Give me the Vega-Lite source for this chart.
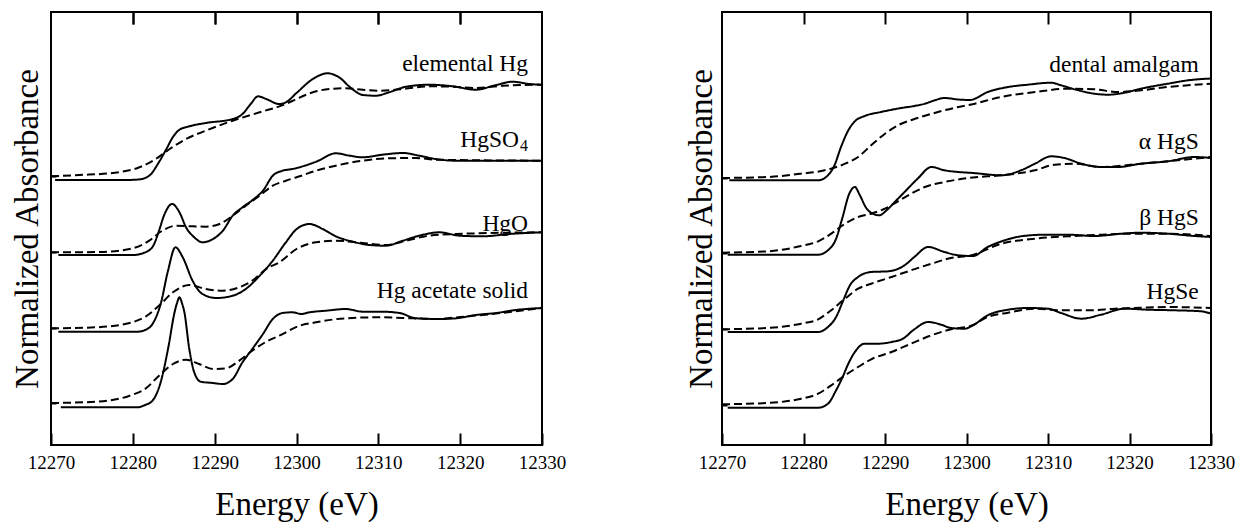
{
  "$schema": "https://vega.github.io/schema/vega-lite/v6.json",
  "background": "white",
  "padding": {"left": 10, "top": 10, "right": 0, "bottom": 0},
  "spacing": 117,
  "config": {
    "view": {"stroke": "black", "strokeWidth": 2},
    "font": "Liberation Serif",
    "axis": {"labelFont": "Liberation Serif", "titleFont": "Liberation Serif", "labelColor": "black", "titleColor": "black", "titleFontWeight": "normal", "tickColor": "black", "grid": false, "domain": false},
    "text": {"font": "Liberation Serif", "color": "black"}
  },
  "datasets": {
    "spectra": [
      {"p":"L","s":"elem","k":"solid","e":12270.5,"y":265},{"p":"L","s":"elem","k":"solid","e":12275,"y":265},{"p":"L","s":"elem","k":"solid","e":12279,"y":265},{"p":"L","s":"elem","k":"solid","e":12280.7,"y":265.5},{"p":"L","s":"elem","k":"solid","e":12282,"y":269.3},{"p":"L","s":"elem","k":"solid","e":12283.2,"y":283},{"p":"L","s":"elem","k":"solid","e":12284.1,"y":296},{"p":"L","s":"elem","k":"solid","e":12284.9,"y":308},{"p":"L","s":"elem","k":"solid","e":12285.7,"y":315.3},{"p":"L","s":"elem","k":"solid","e":12286.9,"y":318.7},{"p":"L","s":"elem","k":"solid","e":12288.9,"y":322},{"p":"L","s":"elem","k":"solid","e":12292.2,"y":326},{"p":"L","s":"elem","k":"solid","e":12293.4,"y":331},{"p":"L","s":"elem","k":"solid","e":12294.4,"y":341},{"p":"L","s":"elem","k":"solid","e":12295.3,"y":348.7},{"p":"L","s":"elem","k":"solid","e":12296.3,"y":346},{"p":"L","s":"elem","k":"solid","e":12297.9,"y":341},{"p":"L","s":"elem","k":"solid","e":12298.7,"y":342.7},{"p":"L","s":"elem","k":"solid","e":12300,"y":352},{"p":"L","s":"elem","k":"solid","e":12302,"y":366},{"p":"L","s":"elem","k":"solid","e":12303.8,"y":371.7},{"p":"L","s":"elem","k":"solid","e":12305.2,"y":367.7},{"p":"L","s":"elem","k":"solid","e":12306.7,"y":356.7},{"p":"L","s":"elem","k":"solid","e":12308.1,"y":350},{"p":"L","s":"elem","k":"solid","e":12309.7,"y":349.3},{"p":"L","s":"elem","k":"solid","e":12311.3,"y":352.7},{"p":"L","s":"elem","k":"solid","e":12313.4,"y":358.3},{"p":"L","s":"elem","k":"solid","e":12316.2,"y":360.3},{"p":"L","s":"elem","k":"solid","e":12319.1,"y":358.7},{"p":"L","s":"elem","k":"solid","e":12321.9,"y":355.3},{"p":"L","s":"elem","k":"solid","e":12324.4,"y":360},{"p":"L","s":"elem","k":"solid","e":12326.4,"y":363.3},{"p":"L","s":"elem","k":"solid","e":12328.5,"y":361},{"p":"L","s":"elem","k":"solid","e":12329.9,"y":360.3},
      {"p":"L","s":"elem","k":"dashed","e":12270,"y":268.7},{"p":"L","s":"elem","k":"dashed","e":12273.5,"y":270},{"p":"L","s":"elem","k":"dashed","e":12277.5,"y":272},{"p":"L","s":"elem","k":"dashed","e":12280.8,"y":277.7},{"p":"L","s":"elem","k":"dashed","e":12282.8,"y":286},{"p":"L","s":"elem","k":"dashed","e":12284.5,"y":296},{"p":"L","s":"elem","k":"dashed","e":12286.5,"y":306},{"p":"L","s":"elem","k":"dashed","e":12288.9,"y":314.3},{"p":"L","s":"elem","k":"dashed","e":12292.2,"y":324.3},{"p":"L","s":"elem","k":"dashed","e":12295.5,"y":332.7},{"p":"L","s":"elem","k":"dashed","e":12298.7,"y":341},{"p":"L","s":"elem","k":"dashed","e":12300,"y":346},{"p":"L","s":"elem","k":"dashed","e":12302,"y":352.7},{"p":"L","s":"elem","k":"dashed","e":12304,"y":356},{"p":"L","s":"elem","k":"dashed","e":12306,"y":356.7},{"p":"L","s":"elem","k":"dashed","e":12308.1,"y":355.3},{"p":"L","s":"elem","k":"dashed","e":12310.1,"y":354.3},{"p":"L","s":"elem","k":"dashed","e":12313,"y":356},{"p":"L","s":"elem","k":"dashed","e":12316.2,"y":358.7},{"p":"L","s":"elem","k":"dashed","e":12319.1,"y":358.3},{"p":"L","s":"elem","k":"dashed","e":12321.9,"y":357},{"p":"L","s":"elem","k":"dashed","e":12325.2,"y":359.3},{"p":"L","s":"elem","k":"dashed","e":12330,"y":360.3},
      {"p":"L","s":"so4","k":"solid","e":12270.9,"y":190},{"p":"L","s":"so4","k":"solid","e":12276,"y":190},{"p":"L","s":"so4","k":"solid","e":12280,"y":190},{"p":"L","s":"so4","k":"solid","e":12281.3,"y":192},{"p":"L","s":"so4","k":"solid","e":12282.4,"y":198},{"p":"L","s":"so4","k":"solid","e":12283.2,"y":214.3},{"p":"L","s":"so4","k":"solid","e":12283.8,"y":229.3},{"p":"L","s":"so4","k":"solid","e":12284.8,"y":241},{"p":"L","s":"so4","k":"solid","e":12285.7,"y":232.7},{"p":"L","s":"so4","k":"solid","e":12286.5,"y":217.7},{"p":"L","s":"so4","k":"solid","e":12287.5,"y":207.7},{"p":"L","s":"so4","k":"solid","e":12288.5,"y":202.7},{"p":"L","s":"so4","k":"solid","e":12289.8,"y":206},{"p":"L","s":"so4","k":"solid","e":12291,"y":214.3},{"p":"L","s":"so4","k":"solid","e":12292.2,"y":229.3},{"p":"L","s":"so4","k":"solid","e":12293.4,"y":237.7},{"p":"L","s":"so4","k":"solid","e":12294.8,"y":246},{"p":"L","s":"so4","k":"solid","e":12295.9,"y":254.3},{"p":"L","s":"so4","k":"solid","e":12297.1,"y":269.3},{"p":"L","s":"so4","k":"solid","e":12298.3,"y":274.3},{"p":"L","s":"so4","k":"solid","e":12299.5,"y":276},{"p":"L","s":"so4","k":"solid","e":12300.6,"y":278.3},{"p":"L","s":"so4","k":"solid","e":12302.4,"y":283.3},{"p":"L","s":"so4","k":"solid","e":12304.8,"y":291.7},{"p":"L","s":"so4","k":"solid","e":12306.5,"y":289.3},{"p":"L","s":"so4","k":"solid","e":12308.1,"y":287.7},{"p":"L","s":"so4","k":"solid","e":12310.5,"y":290.3},{"p":"L","s":"so4","k":"solid","e":12313,"y":292},{"p":"L","s":"so4","k":"solid","e":12315,"y":289.3},{"p":"L","s":"so4","k":"solid","e":12317,"y":286},{"p":"L","s":"so4","k":"solid","e":12319.5,"y":284.3},{"p":"L","s":"so4","k":"solid","e":12322.8,"y":284.3},{"p":"L","s":"so4","k":"solid","e":12330,"y":284.3},
      {"p":"L","s":"so4","k":"dashed","e":12270,"y":192.7},{"p":"L","s":"so4","k":"dashed","e":12276,"y":193},{"p":"L","s":"so4","k":"dashed","e":12280,"y":196.7},{"p":"L","s":"so4","k":"dashed","e":12282,"y":204.3},{"p":"L","s":"so4","k":"dashed","e":12283.6,"y":214.3},{"p":"L","s":"so4","k":"dashed","e":12285.3,"y":219.3},{"p":"L","s":"so4","k":"dashed","e":12287.3,"y":218.7},{"p":"L","s":"so4","k":"dashed","e":12288.9,"y":218.3},{"p":"L","s":"so4","k":"dashed","e":12290.6,"y":221},{"p":"L","s":"so4","k":"dashed","e":12292.2,"y":229.3},{"p":"L","s":"so4","k":"dashed","e":12293.8,"y":239.3},{"p":"L","s":"so4","k":"dashed","e":12295.5,"y":249.3},{"p":"L","s":"so4","k":"dashed","e":12297.1,"y":259.3},{"p":"L","s":"so4","k":"dashed","e":12298.7,"y":264.3},{"p":"L","s":"so4","k":"dashed","e":12300.6,"y":269.3},{"p":"L","s":"so4","k":"dashed","e":12302.4,"y":274.3},{"p":"L","s":"so4","k":"dashed","e":12304.8,"y":279.3},{"p":"L","s":"so4","k":"dashed","e":12308.1,"y":284.3},{"p":"L","s":"so4","k":"dashed","e":12311.3,"y":286.7},{"p":"L","s":"so4","k":"dashed","e":12314.6,"y":287},{"p":"L","s":"so4","k":"dashed","e":12317,"y":285.3},{"p":"L","s":"so4","k":"dashed","e":12330,"y":284.3},
      {"p":"L","s":"hgo","k":"solid","e":12270.9,"y":113.3},{"p":"L","s":"hgo","k":"solid","e":12276,"y":113.3},{"p":"L","s":"hgo","k":"solid","e":12280.5,"y":113.3},{"p":"L","s":"hgo","k":"solid","e":12281.5,"y":115},{"p":"L","s":"hgo","k":"solid","e":12282.4,"y":121},{"p":"L","s":"hgo","k":"solid","e":12283.4,"y":141},{"p":"L","s":"hgo","k":"solid","e":12284.3,"y":174.3},{"p":"L","s":"hgo","k":"solid","e":12285.2,"y":197.7},{"p":"L","s":"hgo","k":"solid","e":12286.1,"y":187.7},{"p":"L","s":"hgo","k":"solid","e":12287.3,"y":164.3},{"p":"L","s":"hgo","k":"solid","e":12288.5,"y":151},{"p":"L","s":"hgo","k":"solid","e":12290.2,"y":147},{"p":"L","s":"hgo","k":"solid","e":12292.2,"y":149.3},{"p":"L","s":"hgo","k":"solid","e":12293.8,"y":156},{"p":"L","s":"hgo","k":"solid","e":12295.5,"y":169.3},{"p":"L","s":"hgo","k":"solid","e":12297.1,"y":184.3},{"p":"L","s":"hgo","k":"solid","e":12298.7,"y":202.7},{"p":"L","s":"hgo","k":"solid","e":12300.1,"y":216.5},{"p":"L","s":"hgo","k":"solid","e":12301.6,"y":221},{"p":"L","s":"hgo","k":"solid","e":12303.2,"y":216},{"p":"L","s":"hgo","k":"solid","e":12304.8,"y":208.7},{"p":"L","s":"hgo","k":"solid","e":12306.9,"y":203.3},{"p":"L","s":"hgo","k":"solid","e":12308.9,"y":200},{"p":"L","s":"hgo","k":"solid","e":12310.9,"y":199.3},{"p":"L","s":"hgo","k":"solid","e":12313,"y":204.3},{"p":"L","s":"hgo","k":"solid","e":12315,"y":209.3},{"p":"L","s":"hgo","k":"solid","e":12317.5,"y":212.7},{"p":"L","s":"hgo","k":"solid","e":12319.9,"y":209.3},{"p":"L","s":"hgo","k":"solid","e":12322.8,"y":208.7},{"p":"L","s":"hgo","k":"solid","e":12326,"y":211},{"p":"L","s":"hgo","k":"solid","e":12330,"y":212.7},
      {"p":"L","s":"hgo","k":"dashed","e":12270,"y":116.7},{"p":"L","s":"hgo","k":"dashed","e":12275.5,"y":117.7},{"p":"L","s":"hgo","k":"dashed","e":12279.6,"y":122},{"p":"L","s":"hgo","k":"dashed","e":12281.6,"y":128.7},{"p":"L","s":"hgo","k":"dashed","e":12283.2,"y":139.3},{"p":"L","s":"hgo","k":"dashed","e":12284.9,"y":152.7},{"p":"L","s":"hgo","k":"dashed","e":12286.9,"y":160},{"p":"L","s":"hgo","k":"dashed","e":12288.9,"y":156},{"p":"L","s":"hgo","k":"dashed","e":12291,"y":154.3},{"p":"L","s":"hgo","k":"dashed","e":12293,"y":157.7},{"p":"L","s":"hgo","k":"dashed","e":12294.6,"y":164.3},{"p":"L","s":"hgo","k":"dashed","e":12296.3,"y":176},{"p":"L","s":"hgo","k":"dashed","e":12297.9,"y":182.7},{"p":"L","s":"hgo","k":"dashed","e":12300,"y":196},{"p":"L","s":"hgo","k":"dashed","e":12302.4,"y":202.7},{"p":"L","s":"hgo","k":"dashed","e":12304.8,"y":204.3},{"p":"L","s":"hgo","k":"dashed","e":12308.1,"y":202},{"p":"L","s":"hgo","k":"dashed","e":12310.9,"y":200},{"p":"L","s":"hgo","k":"dashed","e":12313.4,"y":204.3},{"p":"L","s":"hgo","k":"dashed","e":12316.2,"y":209.3},{"p":"L","s":"hgo","k":"dashed","e":12319.5,"y":211},{"p":"L","s":"hgo","k":"dashed","e":12330,"y":212.7},
      {"p":"L","s":"ac","k":"solid","e":12271.2,"y":37.7},{"p":"L","s":"ac","k":"solid","e":12276,"y":37.7},{"p":"L","s":"ac","k":"solid","e":12280.5,"y":37.7},{"p":"L","s":"ac","k":"solid","e":12281.5,"y":40},{"p":"L","s":"ac","k":"solid","e":12282.4,"y":44.3},{"p":"L","s":"ac","k":"solid","e":12283.4,"y":62.7},{"p":"L","s":"ac","k":"solid","e":12284.3,"y":96},{"p":"L","s":"ac","k":"solid","e":12285.1,"y":132.7},{"p":"L","s":"ac","k":"solid","e":12285.4,"y":142},{"p":"L","s":"ac","k":"solid","e":12285.7,"y":147.7},{"p":"L","s":"ac","k":"solid","e":12286,"y":142},{"p":"L","s":"ac","k":"solid","e":12286.3,"y":132.7},{"p":"L","s":"ac","k":"solid","e":12286.9,"y":96},{"p":"L","s":"ac","k":"solid","e":12287.5,"y":72.7},{"p":"L","s":"ac","k":"solid","e":12288.3,"y":63.3},{"p":"L","s":"ac","k":"solid","e":12289.8,"y":62},{"p":"L","s":"ac","k":"solid","e":12291,"y":61},{"p":"L","s":"ac","k":"solid","e":12292.2,"y":66},{"p":"L","s":"ac","k":"solid","e":12293.4,"y":82.7},{"p":"L","s":"ac","k":"solid","e":12294.6,"y":96},{"p":"L","s":"ac","k":"solid","e":12295.9,"y":111},{"p":"L","s":"ac","k":"solid","e":12297.1,"y":126},{"p":"L","s":"ac","k":"solid","e":12298.3,"y":132},{"p":"L","s":"ac","k":"solid","e":12299.5,"y":132.7},{"p":"L","s":"ac","k":"solid","e":12300.6,"y":131},{"p":"L","s":"ac","k":"solid","e":12301.6,"y":132.7},{"p":"L","s":"ac","k":"solid","e":12303.6,"y":134.3},{"p":"L","s":"ac","k":"solid","e":12306,"y":136},{"p":"L","s":"ac","k":"solid","e":12308.1,"y":133.3},{"p":"L","s":"ac","k":"solid","e":12310.5,"y":133.3},{"p":"L","s":"ac","k":"solid","e":12312.6,"y":132},{"p":"L","s":"ac","k":"solid","e":12314.6,"y":126.7},{"p":"L","s":"ac","k":"solid","e":12317.5,"y":126},{"p":"L","s":"ac","k":"solid","e":12319.5,"y":126.7},{"p":"L","s":"ac","k":"solid","e":12321.9,"y":130},{"p":"L","s":"ac","k":"solid","e":12324.4,"y":132},{"p":"L","s":"ac","k":"solid","e":12326.8,"y":135},{"p":"L","s":"ac","k":"solid","e":12330,"y":137},
      {"p":"L","s":"ac","k":"dashed","e":12270,"y":42},{"p":"L","s":"ac","k":"dashed","e":12275.5,"y":43.3},{"p":"L","s":"ac","k":"dashed","e":12279.6,"y":49.3},{"p":"L","s":"ac","k":"dashed","e":12281.6,"y":56.7},{"p":"L","s":"ac","k":"dashed","e":12283.2,"y":69.3},{"p":"L","s":"ac","k":"dashed","e":12284.9,"y":81},{"p":"L","s":"ac","k":"dashed","e":12286.5,"y":85.3},{"p":"L","s":"ac","k":"dashed","e":12288.1,"y":81},{"p":"L","s":"ac","k":"dashed","e":12289.8,"y":76},{"p":"L","s":"ac","k":"dashed","e":12291.4,"y":76.7},{"p":"L","s":"ac","k":"dashed","e":12293,"y":84.3},{"p":"L","s":"ac","k":"dashed","e":12294.6,"y":94.3},{"p":"L","s":"ac","k":"dashed","e":12296.3,"y":103.3},{"p":"L","s":"ac","k":"dashed","e":12297.9,"y":109.3},{"p":"L","s":"ac","k":"dashed","e":12300.3,"y":119},{"p":"L","s":"ac","k":"dashed","e":12302.4,"y":122.7},{"p":"L","s":"ac","k":"dashed","e":12306,"y":126.7},{"p":"L","s":"ac","k":"dashed","e":12310.1,"y":127.7},{"p":"L","s":"ac","k":"dashed","e":12314.2,"y":126.7},{"p":"L","s":"ac","k":"dashed","e":12317,"y":126},{"p":"L","s":"ac","k":"dashed","e":12320,"y":128},{"p":"L","s":"ac","k":"dashed","e":12325,"y":132},{"p":"L","s":"ac","k":"dashed","e":12330,"y":137},
      {"p":"R","s":"dent","k":"solid","e":12270.9,"y":264.7},{"p":"R","s":"dent","k":"solid","e":12276,"y":264.7},{"p":"R","s":"dent","k":"solid","e":12281.8,"y":264.7},{"p":"R","s":"dent","k":"solid","e":12283,"y":269.7},{"p":"R","s":"dent","k":"solid","e":12283.8,"y":279.7},{"p":"R","s":"dent","k":"solid","e":12284.6,"y":298},{"p":"R","s":"dent","k":"solid","e":12285.5,"y":314.7},{"p":"R","s":"dent","k":"solid","e":12286.3,"y":323.7},{"p":"R","s":"dent","k":"solid","e":12287.5,"y":329},{"p":"R","s":"dent","k":"solid","e":12289.5,"y":333},{"p":"R","s":"dent","k":"solid","e":12292,"y":337},{"p":"R","s":"dent","k":"solid","e":12293.6,"y":339},{"p":"R","s":"dent","k":"solid","e":12294.9,"y":341.3},{"p":"R","s":"dent","k":"solid","e":12296.1,"y":344.7},{"p":"R","s":"dent","k":"solid","e":12297.3,"y":347},{"p":"R","s":"dent","k":"solid","e":12299,"y":345.5},{"p":"R","s":"dent","k":"solid","e":12300.4,"y":345},{"p":"R","s":"dent","k":"solid","e":12302.6,"y":353},{"p":"R","s":"dent","k":"solid","e":12305.1,"y":358},{"p":"R","s":"dent","k":"solid","e":12307.5,"y":360.3},{"p":"R","s":"dent","k":"solid","e":12310.4,"y":362.3},{"p":"R","s":"dent","k":"solid","e":12311.6,"y":359.7},{"p":"R","s":"dent","k":"solid","e":12313.7,"y":354.7},{"p":"R","s":"dent","k":"solid","e":12315.7,"y":351.3},{"p":"R","s":"dent","k":"solid","e":12317.4,"y":350.3},{"p":"R","s":"dent","k":"solid","e":12319.4,"y":352.3},{"p":"R","s":"dent","k":"solid","e":12321.4,"y":356.3},{"p":"R","s":"dent","k":"solid","e":12324.7,"y":361.3},{"p":"R","s":"dent","k":"solid","e":12327.2,"y":364.7},{"p":"R","s":"dent","k":"solid","e":12330,"y":366.5},
      {"p":"R","s":"dent","k":"dashed","e":12270,"y":267},{"p":"R","s":"dent","k":"dashed","e":12275.6,"y":268},{"p":"R","s":"dent","k":"dashed","e":12279.7,"y":271.3},{"p":"R","s":"dent","k":"dashed","e":12282.6,"y":274.7},{"p":"R","s":"dent","k":"dashed","e":12285.1,"y":281.3},{"p":"R","s":"dent","k":"dashed","e":12286.7,"y":288},{"p":"R","s":"dent","k":"dashed","e":12288.3,"y":299.7},{"p":"R","s":"dent","k":"dashed","e":12290,"y":311.3},{"p":"R","s":"dent","k":"dashed","e":12291.6,"y":319.7},{"p":"R","s":"dent","k":"dashed","e":12294,"y":327},{"p":"R","s":"dent","k":"dashed","e":12296.5,"y":333},{"p":"R","s":"dent","k":"dashed","e":12299,"y":338},{"p":"R","s":"dent","k":"dashed","e":12300.6,"y":340.5},{"p":"R","s":"dent","k":"dashed","e":12304.2,"y":348},{"p":"R","s":"dent","k":"dashed","e":12308.4,"y":353},{"p":"R","s":"dent","k":"dashed","e":12312.5,"y":356.3},{"p":"R","s":"dent","k":"dashed","e":12315.7,"y":355.7},{"p":"R","s":"dent","k":"dashed","e":12318.6,"y":353},{"p":"R","s":"dent","k":"dashed","e":12321.4,"y":354.7},{"p":"R","s":"dent","k":"dashed","e":12324.7,"y":358},{"p":"R","s":"dent","k":"dashed","e":12330,"y":361.3},
      {"p":"R","s":"ahgs","k":"solid","e":12270.7,"y":190.3},{"p":"R","s":"ahgs","k":"solid","e":12276,"y":190.3},{"p":"R","s":"ahgs","k":"solid","e":12281.8,"y":190.3},{"p":"R","s":"ahgs","k":"solid","e":12283,"y":194.7},{"p":"R","s":"ahgs","k":"solid","e":12284,"y":206.3},{"p":"R","s":"ahgs","k":"solid","e":12284.8,"y":228},{"p":"R","s":"ahgs","k":"solid","e":12285.6,"y":251},{"p":"R","s":"ahgs","k":"solid","e":12286.3,"y":258},{"p":"R","s":"ahgs","k":"solid","e":12286.9,"y":250},{"p":"R","s":"ahgs","k":"solid","e":12287.7,"y":237},{"p":"R","s":"ahgs","k":"solid","e":12288.5,"y":231.3},{"p":"R","s":"ahgs","k":"solid","e":12289.3,"y":229.7},{"p":"R","s":"ahgs","k":"solid","e":12290.2,"y":234.7},{"p":"R","s":"ahgs","k":"solid","e":12291.2,"y":243},{"p":"R","s":"ahgs","k":"solid","e":12292.4,"y":253},{"p":"R","s":"ahgs","k":"solid","e":12294,"y":266.3},{"p":"R","s":"ahgs","k":"solid","e":12295.7,"y":278},{"p":"R","s":"ahgs","k":"solid","e":12297.3,"y":274.7},{"p":"R","s":"ahgs","k":"solid","e":12299,"y":273},{"p":"R","s":"ahgs","k":"solid","e":12300.8,"y":272},{"p":"R","s":"ahgs","k":"solid","e":12304.3,"y":269.7},{"p":"R","s":"ahgs","k":"solid","e":12306.7,"y":274.7},{"p":"R","s":"ahgs","k":"solid","e":12308.4,"y":281.3},{"p":"R","s":"ahgs","k":"solid","e":12310.4,"y":288.7},{"p":"R","s":"ahgs","k":"solid","e":12312,"y":287},{"p":"R","s":"ahgs","k":"solid","e":12314.1,"y":281.3},{"p":"R","s":"ahgs","k":"solid","e":12316.5,"y":278},{"p":"R","s":"ahgs","k":"solid","e":12318.6,"y":278},{"p":"R","s":"ahgs","k":"solid","e":12321.4,"y":281.3},{"p":"R","s":"ahgs","k":"solid","e":12324.7,"y":283.7},{"p":"R","s":"ahgs","k":"solid","e":12328,"y":288},{"p":"R","s":"ahgs","k":"solid","e":12330,"y":287},
      {"p":"R","s":"ahgs","k":"dashed","e":12270,"y":192.3},{"p":"R","s":"ahgs","k":"dashed","e":12275.6,"y":193.7},{"p":"R","s":"ahgs","k":"dashed","e":12279.7,"y":199},{"p":"R","s":"ahgs","k":"dashed","e":12281.8,"y":203.7},{"p":"R","s":"ahgs","k":"dashed","e":12283.4,"y":211.3},{"p":"R","s":"ahgs","k":"dashed","e":12285.1,"y":221.3},{"p":"R","s":"ahgs","k":"dashed","e":12286.7,"y":228},{"p":"R","s":"ahgs","k":"dashed","e":12288.3,"y":231.3},{"p":"R","s":"ahgs","k":"dashed","e":12290,"y":236.3},{"p":"R","s":"ahgs","k":"dashed","e":12291.6,"y":243.7},{"p":"R","s":"ahgs","k":"dashed","e":12293.2,"y":251.3},{"p":"R","s":"ahgs","k":"dashed","e":12294.9,"y":258},{"p":"R","s":"ahgs","k":"dashed","e":12297.3,"y":263},{"p":"R","s":"ahgs","k":"dashed","e":12300.8,"y":267.5},{"p":"R","s":"ahgs","k":"dashed","e":12304.3,"y":269.7},{"p":"R","s":"ahgs","k":"dashed","e":12308.4,"y":274.7},{"p":"R","s":"ahgs","k":"dashed","e":12310.8,"y":280.3},{"p":"R","s":"ahgs","k":"dashed","e":12313.3,"y":281.3},{"p":"R","s":"ahgs","k":"dashed","e":12316.5,"y":278},{"p":"R","s":"ahgs","k":"dashed","e":12321.4,"y":281.3},{"p":"R","s":"ahgs","k":"dashed","e":12330,"y":288},
      {"p":"R","s":"bhgs","k":"solid","e":12270.7,"y":113},{"p":"R","s":"bhgs","k":"solid","e":12276,"y":113},{"p":"R","s":"bhgs","k":"solid","e":12281.8,"y":113},{"p":"R","s":"bhgs","k":"solid","e":12283,"y":118},{"p":"R","s":"bhgs","k":"solid","e":12284,"y":128},{"p":"R","s":"bhgs","k":"solid","e":12284.8,"y":143},{"p":"R","s":"bhgs","k":"solid","e":12285.7,"y":159.7},{"p":"R","s":"bhgs","k":"solid","e":12286.7,"y":168},{"p":"R","s":"bhgs","k":"solid","e":12288.3,"y":173},{"p":"R","s":"bhgs","k":"solid","e":12290.4,"y":173.7},{"p":"R","s":"bhgs","k":"solid","e":12292.4,"y":179.7},{"p":"R","s":"bhgs","k":"solid","e":12293.6,"y":188},{"p":"R","s":"bhgs","k":"solid","e":12295.3,"y":198},{"p":"R","s":"bhgs","k":"solid","e":12297.3,"y":193},{"p":"R","s":"bhgs","k":"solid","e":12299,"y":189.7},{"p":"R","s":"bhgs","k":"solid","e":12300.8,"y":189},{"p":"R","s":"bhgs","k":"solid","e":12302.6,"y":198},{"p":"R","s":"bhgs","k":"solid","e":12304.7,"y":204.7},{"p":"R","s":"bhgs","k":"solid","e":12306.7,"y":208.7},{"p":"R","s":"bhgs","k":"solid","e":12309.6,"y":210.3},{"p":"R","s":"bhgs","k":"solid","e":12312.5,"y":210.3},{"p":"R","s":"bhgs","k":"solid","e":12315.7,"y":209},{"p":"R","s":"bhgs","k":"solid","e":12319,"y":211.3},{"p":"R","s":"bhgs","k":"solid","e":12321.4,"y":212.3},{"p":"R","s":"bhgs","k":"solid","e":12324.7,"y":211.3},{"p":"R","s":"bhgs","k":"solid","e":12328,"y":209},{"p":"R","s":"bhgs","k":"solid","e":12330,"y":208},
      {"p":"R","s":"bhgs","k":"dashed","e":12270,"y":115.7},{"p":"R","s":"bhgs","k":"dashed","e":12275.6,"y":117},{"p":"R","s":"bhgs","k":"dashed","e":12279.7,"y":121.3},{"p":"R","s":"bhgs","k":"dashed","e":12281.8,"y":125.7},{"p":"R","s":"bhgs","k":"dashed","e":12283.4,"y":134.7},{"p":"R","s":"bhgs","k":"dashed","e":12285.1,"y":146.3},{"p":"R","s":"bhgs","k":"dashed","e":12286.7,"y":156.3},{"p":"R","s":"bhgs","k":"dashed","e":12288.3,"y":161.3},{"p":"R","s":"bhgs","k":"dashed","e":12290.8,"y":168},{"p":"R","s":"bhgs","k":"dashed","e":12293.2,"y":174.7},{"p":"R","s":"bhgs","k":"dashed","e":12295.7,"y":181.3},{"p":"R","s":"bhgs","k":"dashed","e":12298.1,"y":187},{"p":"R","s":"bhgs","k":"dashed","e":12300.5,"y":189.5},{"p":"R","s":"bhgs","k":"dashed","e":12304.3,"y":201.3},{"p":"R","s":"bhgs","k":"dashed","e":12308.4,"y":206.3},{"p":"R","s":"bhgs","k":"dashed","e":12312.5,"y":208.7},{"p":"R","s":"bhgs","k":"dashed","e":12316.5,"y":210.3},{"p":"R","s":"bhgs","k":"dashed","e":12320.6,"y":211.3},{"p":"R","s":"bhgs","k":"dashed","e":12324.7,"y":211.3},{"p":"R","s":"bhgs","k":"dashed","e":12330,"y":209},
      {"p":"R","s":"hgse","k":"solid","e":12270.7,"y":37.3},{"p":"R","s":"hgse","k":"solid","e":12276,"y":37.3},{"p":"R","s":"hgse","k":"solid","e":12281.8,"y":37.3},{"p":"R","s":"hgse","k":"solid","e":12283,"y":41.3},{"p":"R","s":"hgse","k":"solid","e":12284,"y":54.7},{"p":"R","s":"hgse","k":"solid","e":12284.8,"y":68},{"p":"R","s":"hgse","k":"solid","e":12285.5,"y":81.3},{"p":"R","s":"hgse","k":"solid","e":12286.3,"y":93},{"p":"R","s":"hgse","k":"solid","e":12287.5,"y":101.3},{"p":"R","s":"hgse","k":"solid","e":12289.1,"y":101.3},{"p":"R","s":"hgse","k":"solid","e":12290.8,"y":103},{"p":"R","s":"hgse","k":"solid","e":12292.2,"y":106.3},{"p":"R","s":"hgse","k":"solid","e":12293.6,"y":115.7},{"p":"R","s":"hgse","k":"solid","e":12295.3,"y":123},{"p":"R","s":"hgse","k":"solid","e":12296.9,"y":120.3},{"p":"R","s":"hgse","k":"solid","e":12298.1,"y":117},{"p":"R","s":"hgse","k":"solid","e":12299.8,"y":116.3},{"p":"R","s":"hgse","k":"solid","e":12300.8,"y":119.7},{"p":"R","s":"hgse","k":"solid","e":12302.6,"y":129.7},{"p":"R","s":"hgse","k":"solid","e":12305.1,"y":135.3},{"p":"R","s":"hgse","k":"solid","e":12307.5,"y":137},{"p":"R","s":"hgse","k":"solid","e":12310,"y":136.3},{"p":"R","s":"hgse","k":"solid","e":12311.6,"y":132},{"p":"R","s":"hgse","k":"solid","e":12314.1,"y":126.3},{"p":"R","s":"hgse","k":"solid","e":12316.5,"y":130.3},{"p":"R","s":"hgse","k":"solid","e":12319.4,"y":136.3},{"p":"R","s":"hgse","k":"solid","e":12322.2,"y":135.3},{"p":"R","s":"hgse","k":"solid","e":12325.5,"y":134.7},{"p":"R","s":"hgse","k":"solid","e":12328.8,"y":133.7},{"p":"R","s":"hgse","k":"solid","e":12330,"y":131.3},
      {"p":"R","s":"hgse","k":"dashed","e":12270,"y":40.7},{"p":"R","s":"hgse","k":"dashed","e":12275.6,"y":42},{"p":"R","s":"hgse","k":"dashed","e":12279.7,"y":46.3},{"p":"R","s":"hgse","k":"dashed","e":12281.8,"y":51.3},{"p":"R","s":"hgse","k":"dashed","e":12283.4,"y":59.7},{"p":"R","s":"hgse","k":"dashed","e":12285.1,"y":69.7},{"p":"R","s":"hgse","k":"dashed","e":12286.7,"y":78},{"p":"R","s":"hgse","k":"dashed","e":12288.3,"y":85.7},{"p":"R","s":"hgse","k":"dashed","e":12290.8,"y":93},{"p":"R","s":"hgse","k":"dashed","e":12293.2,"y":101.3},{"p":"R","s":"hgse","k":"dashed","e":12295.7,"y":109.7},{"p":"R","s":"hgse","k":"dashed","e":12298.1,"y":115.7},{"p":"R","s":"hgse","k":"dashed","e":12300.5,"y":119},{"p":"R","s":"hgse","k":"dashed","e":12302.6,"y":128},{"p":"R","s":"hgse","k":"dashed","e":12305.1,"y":132.3},{"p":"R","s":"hgse","k":"dashed","e":12308.4,"y":136.3},{"p":"R","s":"hgse","k":"dashed","e":12311.6,"y":134.7},{"p":"R","s":"hgse","k":"dashed","e":12314.9,"y":134.7},{"p":"R","s":"hgse","k":"dashed","e":12318.2,"y":136.3},{"p":"R","s":"hgse","k":"dashed","e":12321.4,"y":137.3},{"p":"R","s":"hgse","k":"dashed","e":12324.7,"y":138},{"p":"R","s":"hgse","k":"dashed","e":12330,"y":137}
    ],
    "labels": [
      {"p":"L","part":"main","t":"elemental Hg","e":12328.3,"y":374},
      {"p":"L","part":"main","t":"HgSO","e":12327.2,"y":298},
      {"p":"L","part":"sub","t":"4","e":12327.3,"y":294},
      {"p":"L","part":"main","t":"HgO","e":12328.3,"y":214.3},
      {"p":"L","part":"main","t":"Hg acetate solid","e":12328.3,"y":146.7},
      {"p":"R","part":"main","t":"dental amalgam","e":12328.5,"y":373},
      {"p":"R","part":"main","t":"α HgS","e":12328.5,"y":296.3},
      {"p":"R","part":"main","t":"β HgS","e":12328.5,"y":220.3},
      {"p":"R","part":"main","t":"HgSe","e":12328.5,"y":146.3}
    ]
  },
  "hconcat": [
    {
      "width": 491,
      "height": 433,
      "encoding": {
        "y": {"field": "y", "type": "quantitative", "scale": {"domain": [0, 433], "nice": false, "zero": false},
          "axis": {"orient": "left", "offset": -5, "title": "Normalized Absorbance", "values": [42, 117, 193, 269], "labels": false, "ticks": true, "tickSize": 5, "tickWidth": 2, "titleFontSize": 33, "titlePadding": 5.5, "titleAngle": 270}}
      },
      "layer": [
        {
          "data": {"name": "spectra"},
          "transform": [{"filter": "datum.p === 'L'"}],
          "mark": {"type": "line", "color": "black", "strokeWidth": 2, "strokeJoin": "round", "interpolate": "monotone"},
          "encoding": {
            "x": {"field": "e", "type": "quantitative", "scale": {"domain": [12270, 12330], "nice": false, "zero": false},
              "axis": {"orient": "bottom", "offset": -12, "title": "Energy (eV)", "values": [12270, 12280, 12290, 12300, 12310, 12320, 12330], "format": "d", "tickSize": 12, "tickWidth": 2, "labelFontSize": 19, "labelPadding": 8.5, "labelFlush": false, "labelOverlap": false, "titleFontSize": 33, "titlePadding": 15.5}},
            "detail": {"field": "s"},
            "strokeDash": {"field": "k", "type": "nominal", "scale": {"domain": ["solid", "dashed"], "range": [[1, 0], [8, 4]]}, "legend": null}
          }
        },
        {
          "data": {"name": "labels"},
          "transform": [{"filter": "datum.p === 'L' && datum.part === 'main'"}],
          "mark": {"type": "text", "align": "right", "baseline": "alphabetic", "fontSize": 23.5, "color": "black"},
          "encoding": {
            "x": {"field": "e", "type": "quantitative", "axis": {"orient": "top", "offset": -12, "title": null, "values": [12280, 12290, 12300, 12310, 12320], "labels": false, "tickSize": 12, "tickWidth": 2}},
            "text": {"field": "t"}
          }
        },
        {
          "data": {"name": "labels"},
          "transform": [{"filter": "datum.p === 'L' && datum.part === 'sub'"}],
          "mark": {"type": "text", "align": "left", "baseline": "alphabetic", "fontSize": 16, "color": "black"},
          "encoding": {
            "x": {"field": "e", "type": "quantitative", "axis": {"orient": "top", "offset": -12, "title": null, "values": [12280, 12290, 12300, 12310, 12320], "labels": false, "tickSize": 12, "tickWidth": 2}},
            "text": {"field": "t"}
          }
        }
      ]
    },
    {
      "width": 489,
      "height": 433,
      "encoding": {
        "y": {"field": "y", "type": "quantitative", "scale": {"domain": [0, 433], "nice": false, "zero": false},
          "axis": {"orient": "left", "offset": -5, "title": "Normalized Absorbance", "values": [40, 116, 192, 267], "labels": false, "ticks": true, "tickSize": 5, "tickWidth": 2, "titleFontSize": 33, "titlePadding": 2.5, "titleAngle": 270}}
      },
      "layer": [
        {
          "data": {"name": "spectra"},
          "transform": [{"filter": "datum.p === 'R'"}],
          "mark": {"type": "line", "color": "black", "strokeWidth": 2, "strokeJoin": "round", "interpolate": "monotone"},
          "encoding": {
            "x": {"field": "e", "type": "quantitative", "scale": {"domain": [12270, 12330], "nice": false, "zero": false},
              "axis": {"orient": "bottom", "offset": -12, "title": "Energy (eV)", "values": [12270, 12280, 12290, 12300, 12310, 12320, 12330], "format": "d", "tickSize": 12, "tickWidth": 2, "labelFontSize": 19, "labelPadding": 8.5, "labelFlush": false, "labelOverlap": false, "titleFontSize": 33, "titlePadding": 15.5}},
            "detail": {"field": "s"},
            "strokeDash": {"field": "k", "type": "nominal", "scale": {"domain": ["solid", "dashed"], "range": [[1, 0], [8, 4]]}, "legend": null}
          }
        },
        {
          "data": {"name": "labels"},
          "transform": [{"filter": "datum.p === 'R' && datum.part === 'main'"}],
          "mark": {"type": "text", "align": "right", "baseline": "alphabetic", "fontSize": 23.5, "color": "black"},
          "encoding": {
            "x": {"field": "e", "type": "quantitative", "axis": {"orient": "top", "offset": -12, "title": null, "values": [12280, 12290, 12300, 12310, 12320], "labels": false, "tickSize": 12, "tickWidth": 2}},
            "text": {"field": "t"}
          }
        }
      ]
    }
  ]
}
